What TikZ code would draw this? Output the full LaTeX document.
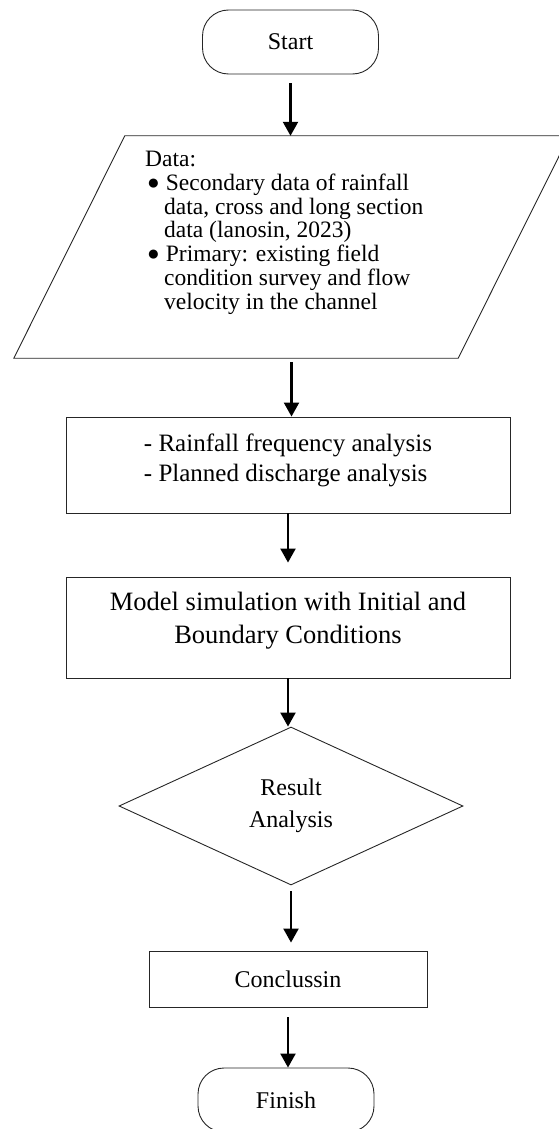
\documentclass[tikz,border=0pt]{standalone}
\usepackage{fontspec}
\setmainfont{Liberation Serif}
\usetikzlibrary{arrows.meta,shapes.geometric,positioning}
\newcommand{\dotmark}{\raisebox{1pt}{\fontsize{21}{21}\selectfont ●}}
\tikzset{>={Triangle[width=15pt,length=14pt]},
         outline/.style={draw=black!85, line width=0.9pt},
         term/.style={outline, rounded corners=26pt, minimum width=176pt,
                      minimum height=64pt, font=\fontsize{24}{28}\selectfont},
         proc/.style={outline, minimum width=444pt},
         flow/.style={->, line width=2.2pt}}

\begin{document}
\begin{tikzpicture}[x=1pt, y=-1pt]

	\useasboundingbox (0,0) rectangle (558,1129);
	\node[term] (start) at (290.5,42) {Start};
	\node[minimum width=555pt, minimum height=222pt, inner sep=0pt] (data) at (291.5,247) {};
	\draw[outline] (data.south west) -- ([xshift=-111pt]data.south east)
		-- (data.north east) -- ([xshift=111pt]data.north west) -- cycle;
	\node[anchor=north west, align=left, inner sep=0pt,
		font=\fontsize{23.5}{23.8}\selectfont] (datatext) at (145,151)
		{Data:\\
		 \hspace*{2pt}\dotmark\hspace{6pt}Secondary data of rainfall\\
		 \hspace*{19pt}data, cross and long section\\
		 \hspace*{19pt}data (lanosin, 2023)\\
		 \hspace*{2pt}\dotmark\hspace{6pt}Primary: existing field\\
		 \hspace*{19pt}condition survey and flow\\
		 \hspace*{19pt}velocity in the channel};
	\node[proc, minimum height=96pt] (freq) at (288,465) {};
	\node[align=left, font=\fontsize{25}{30}\selectfont] (freqtext) at ([yshift=5pt]freq.center)
		{- Rainfall frequency analysis\\- Planned discharge analysis};
	\node[proc, minimum height=101pt] (model) at (288,627.5) {};
	\node[align=center, font=\fontsize{26.5}{33.5}\selectfont] (modeltext) at ([yshift=7pt]model.center)
		{Model simulation with Initial and\\Boundary Conditions};
	\node[outline, diamond, minimum width=344pt, minimum height=158pt, inner sep=0pt,
		align=center, font=\fontsize{24}{32}\selectfont] (result) at (291,806) {Result\\Analysis};
	\node[outline, minimum width=278pt, minimum height=56pt,
		font=\fontsize{24}{28}\selectfont] (concl) at (288,979) {Conclussin};
	\node[term] (finish) at (286,1100) {Finish};

	\draw[flow, shorten <=9pt] (start.south) -- (start.south |- data.north);
	\draw[flow, shorten <=4pt] (data.south) -- (data.south |- freq.north);
	\draw[flow, shorten >=14pt] (freq.south) -- (freq.south |- model.north);
	\draw[flow] (model.south) -- (model.south |- result.north);
	\draw[flow, shorten <=6pt, shorten >=8pt] (result.south) -- (result.south |- concl.north);
	\draw[flow, shorten <=10pt] (concl.south) -- (concl.south |- finish.north);
	\end{tikzpicture}
\end{document}
